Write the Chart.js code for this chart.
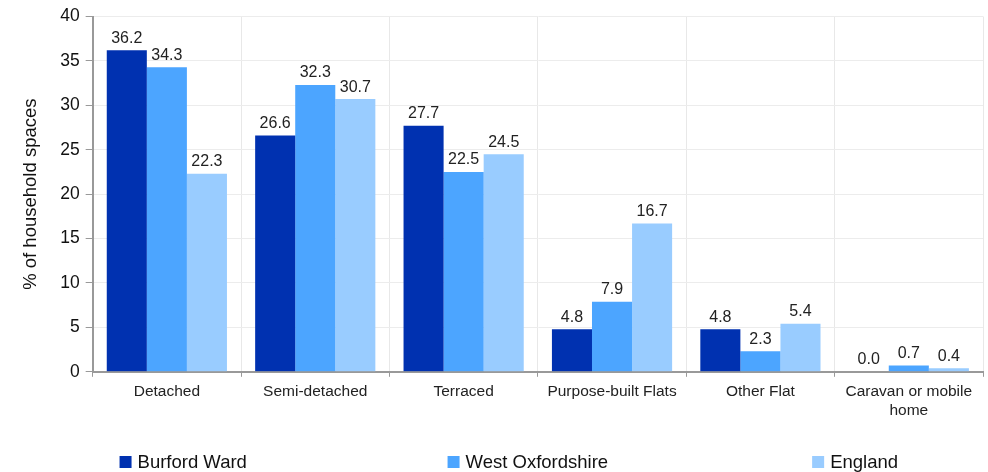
<!DOCTYPE html>
<html>
<head>
<meta charset="utf-8">
<script src="https://cdn.jsdelivr.net/npm/chart.js@4"></script>
<style>
  html, body { margin: 0; padding: 0; background: #fff; }
  #wrap { width: 988px; height: 472px; }
</style>
</head>
<body>
<div id="wrap"><canvas id="housing_chart"></canvas></div>
<script>
const categories = [
    'Detached', 'Semi-detached', 'Terraced', 'Purpose-built Flats',
    'Other Flat', ['Caravan or mobile', 'home']
];

const burfordWard = [36.2, 26.6, 27.7, 4.8, 4.8, 0.0];
const westOxfordshire = [34.3, 32.3, 22.5, 7.9, 2.3, 0.7];
const england = [22.3, 30.7, 24.5, 16.7, 5.4, 0.4];

const FONT = '"Liberation Sans", Arial, sans-serif';
Chart.defaults.font.family = FONT;
Chart.defaults.color = '#222';

// draw value above every bar
const barLabels = {
    id: 'barLabels',
    afterDatasetsDraw(chart) {
        const c = chart.ctx;
        c.save();
        c.font = '16px ' + FONT;
        c.fillStyle = '#222';
        c.textAlign = 'center';
        c.textBaseline = 'bottom';
        chart.data.datasets.forEach((ds, i) => {
            chart.getDatasetMeta(i).data.forEach((bar, j) => {
                c.fillText(ds.data[j].toFixed(1), bar.x, bar.y - 4);
            });
        });
        c.restore();
    }
};

// legend spread out along the bottom, like the original
const wideLegend = {
    id: 'wideLegend',
    afterDraw(chart) {
        const c = chart.ctx;
        const slots = [0.121, 0.453, 0.822];
        const y = chart.height - 10;
        c.save();
        c.font = '18.5px ' + FONT;
        c.textBaseline = 'middle';
        c.textAlign = 'left';
        chart.data.datasets.forEach((ds, i) => {
            const x = chart.width * slots[i];
            c.fillStyle = ds.backgroundColor;
            c.fillRect(x, y - 6, 12, 12);
            c.fillStyle = '#111';
            c.fillText(ds.label, x + 18, y + 1);
        });
        c.restore();
    }
};

const ctx = document.getElementById('housing_chart').getContext('2d');
const chart = new Chart(ctx, {
    type: 'bar',
    data: {
        labels: categories,
        datasets: [
            { label: 'Burford Ward', data: burfordWard, backgroundColor: '#0031b0' },
            { label: 'West Oxfordshire', data: westOxfordshire, backgroundColor: '#4ca5ff' },
            { label: 'England', data: england, backgroundColor: '#99ccff' }
        ]
    },
    options: {
        responsive: true,
        maintainAspectRatio: false,
        animation: false,
        categoryPercentage: 0.81,
        barPercentage: 1.0,
        layout: { padding: { top: 12, right: 5, left: 20, bottom: 46 } },
        plugins: {
            tooltip: { enabled: false },
            legend: { display: false }
        },
        scales: {
            x: {
                grid: { color: '#e8e8e8', offset: true, tickLength: 5, tickColor: '#999' },
                border: { color: '#999', width: 2 },
                ticks: { font: { size: 15.5 }, color: '#222', maxRotation: 0, autoSkip: false, padding: 6 }
            },
            y: {
                min: 0,
                max: 40,
                ticks: { stepSize: 5, font: { size: 17.5 }, color: '#111', padding: 6 },
                grid: { color: '#ececec', tickLength: 7, tickColor: '#999' },
                border: { color: '#999', width: 2 },
                title: {
                    display: true,
                    text: '% of household spaces',
                    font: { size: 18.5 },
                    color: '#111',
                    padding: { top: 0, bottom: 12 }
                }
            }
        }
    },
    plugins: [barLabels, wideLegend]
});
</script>
</body>
</html>
